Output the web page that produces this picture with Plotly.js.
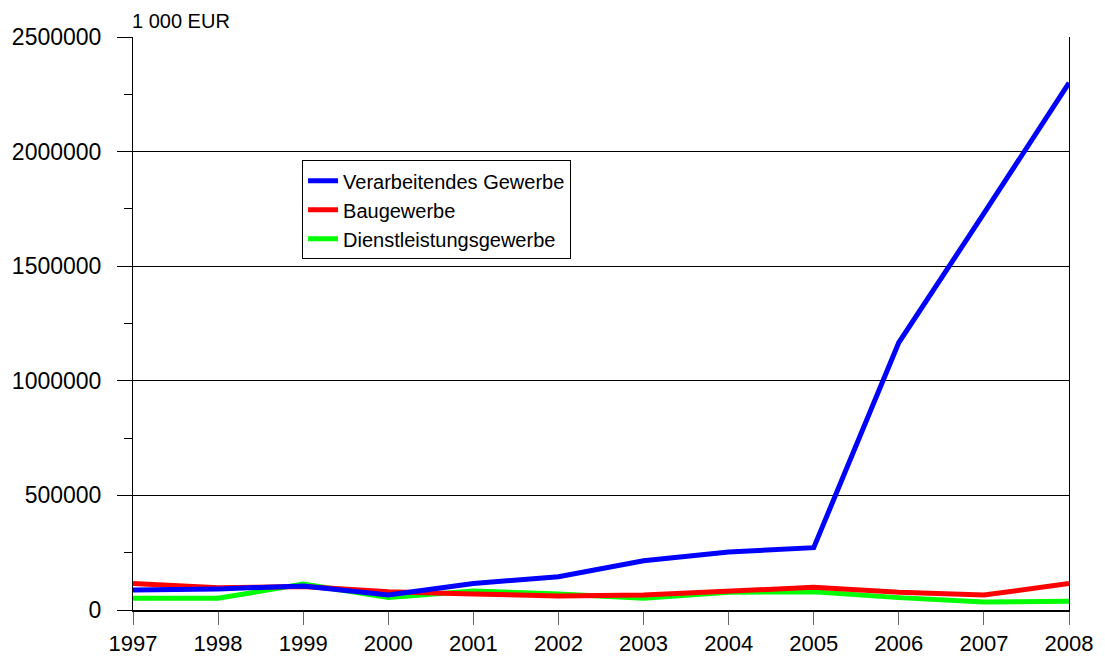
<!DOCTYPE html>
<html>
<head>
<meta charset="utf-8">
<script src="https://cdn.plot.ly/plotly-3.0.1.min.js"></script>
<style>body{margin:0;padding:0;background:#fff}#chart{width:1105px;height:659px}</style>
</head>
<body>
<div id="chart"></div>
<script>
var years = [1997,1998,1999,2000,2001,2002,2003,2004,2005,2006,2007,2008];
var verarbeitend = [87000,92000,105000,65000,116000,145000,215000,253000,272000,1167000,1730000,2300000];
var bau = [116000,97000,102000,80000,70000,61000,65000,83000,99000,77000,65000,116000];
var dienst = [51000,51000,113000,55000,83000,70000,51000,77000,80000,54000,35000,38000];
var seriesNames = ["Verarbeitendes Gewerbe","Baugewerbe","Dienstleistungsgewerbe"];
var unitLabel = "1 000 EUR";

var font = "Liberation Sans, Arial, sans-serif";
var traces = [
  {x: years, y: dienst, name: seriesNames[2], mode: "lines", line: {color: "#00ff00", width: 5}},
  {x: years, y: bau, name: seriesNames[1], mode: "lines", line: {color: "#ff0000", width: 5}},
  {x: years, y: verarbeitend, name: seriesNames[0], mode: "lines", line: {color: "#0000ff", width: 5}}
];
var layout = {
  width: 1105, height: 659,
  margin: {l: 133, r: 36, t: 37, b: 49},
  paper_bgcolor: "#fff", plot_bgcolor: "#fff",
  font: {family: font, size: 23, color: "#000"},
  showlegend: true,
  legend: {
    x: 0.1806, y: 0.785, xanchor: "left", yanchor: "top",
    traceorder: "reversed",
    bordercolor: "#000", borderwidth: 1, bgcolor: "#fff",
    font: {family: font, size: 20, color: "#000"},
    tracegroupgap: 0
  },
  xaxis: {
    range: [1997, 2008], tickvals: years, ticktext: years.map(String),
    showgrid: false, zeroline: false,
    showline: true, linecolor: "#000", linewidth: 1.5,
    ticks: "outside", ticklen: 13, tickcolor: "#666", tickwidth: 1,
    ticklabelstandoff: 0,
    tickfont: {family: font, size: 22, color: "#000"},
    mirror: false
  },
  yaxis: {
    range: [0, 2500000], tickvals: [0,500000,1000000,1500000,2000000,2500000],
    ticktext: ["0","500000","1000000","1500000","2000000","2500000"],
    showgrid: true, gridcolor: "#000", gridwidth: 1,
    zeroline: false,
    showline: true, linecolor: "#000", linewidth: 1, mirror: true,
    ticks: "outside", ticklen: 15, tickcolor: "#000", tickwidth: 1,
    ticklabelstandoff: 11,
    tickfont: {family: font, size: 23, color: "#000"},
    minor: {tickvals: [250000,750000,1250000,1750000,2250000], ticks: "outside", ticklen: 8, tickcolor: "#000", showgrid: false}
  },
  annotations: [{
    text: unitLabel, xref: "paper", yref: "paper", x: 0, y: 1, xanchor: "left", yanchor: "bottom",
    xshift: -3, yshift: 3, showarrow: false, font: {family: font, size: 20, color: "#000"}
  }]
};
Plotly.newPlot("chart", traces, layout, {displayModeBar: false});
</script>
</body>
</html>
